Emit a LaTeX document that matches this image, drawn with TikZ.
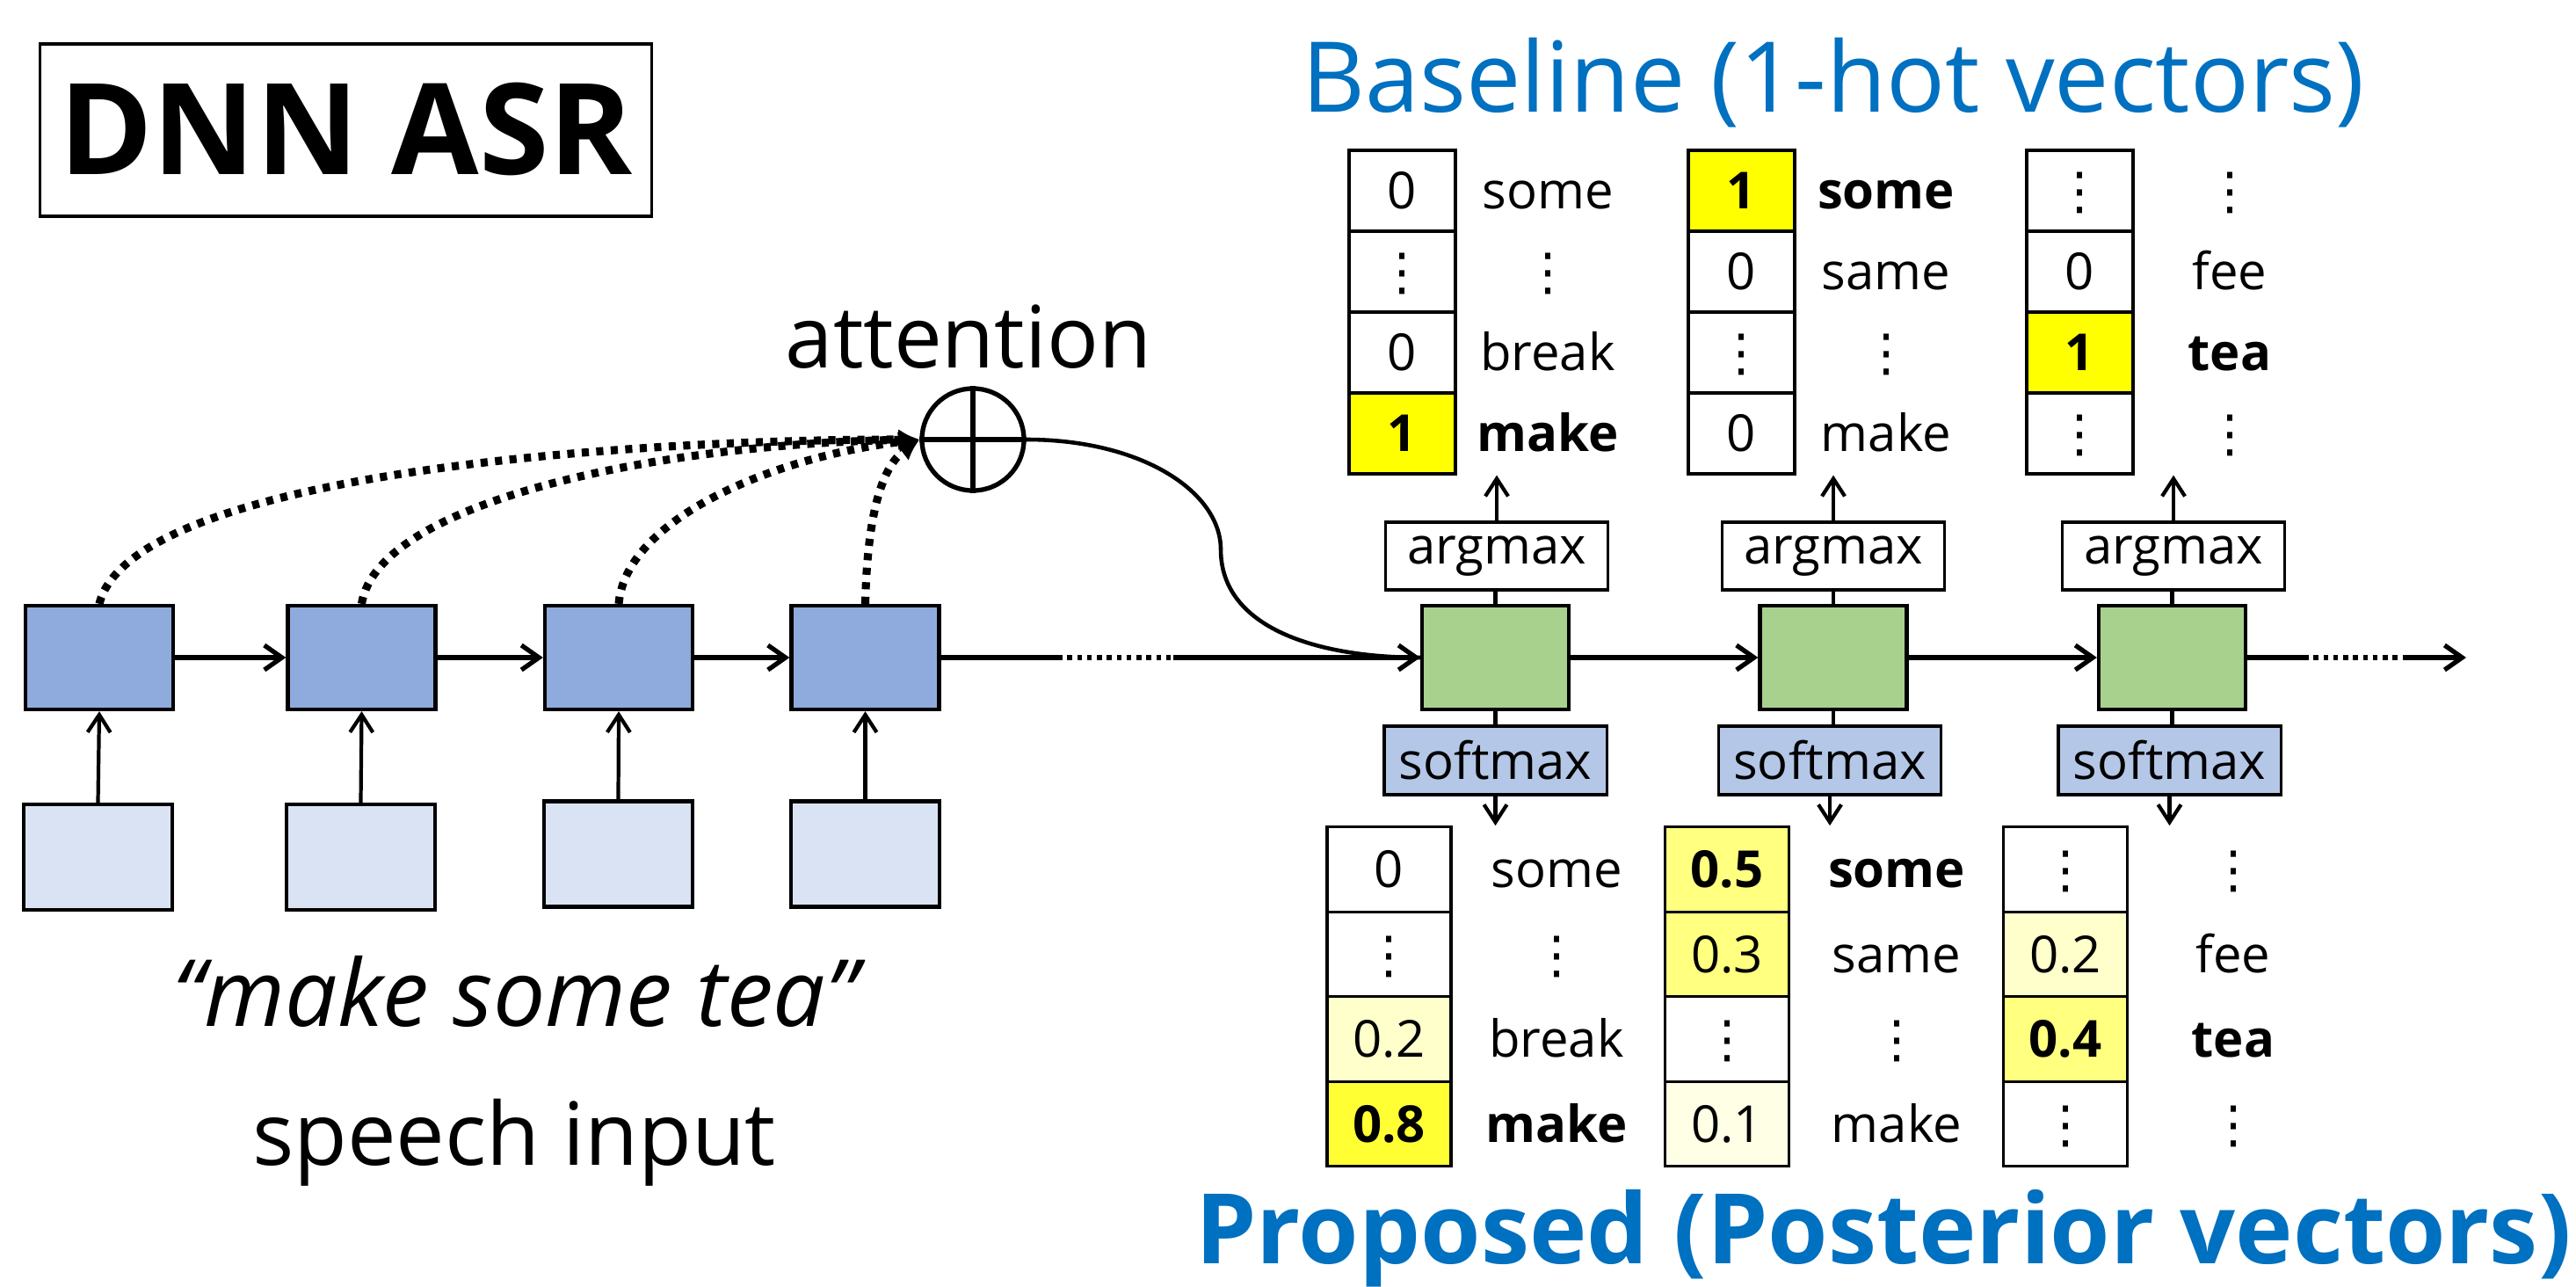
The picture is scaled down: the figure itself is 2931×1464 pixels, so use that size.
\documentclass[tikz,border=0pt]{standalone}
\usepackage{fontspec}
\setmainfont{Open Sans}
\newfontfamily\dejavu{DejaVu Sans}
\usetikzlibrary{arrows.meta}
\definecolor{titleblue}{HTML}{0070C0}
\definecolor{encfill}{HTML}{8FAADC}
\definecolor{infill}{HTML}{DAE3F3}
\definecolor{decfill}{HTML}{A9D18E}
\definecolor{smfill}{HTML}{B4C7E7}
\definecolor{yA}{HTML}{FFFF00}
\definecolor{yB}{HTML}{FFFF33}
\definecolor{yC}{HTML}{FFFF80}
\definecolor{yD}{HTML}{FFFFCC}
\definecolor{yE}{HTML}{FFFFE6}
\newcommand\vdotsym{{\dejavu ⋮}}
\newcommand\tabfont{\fontsize{16.5pt}{18pt}\selectfont}
\tikzset{
  encbox/.style={draw, line width=1.2pt, fill=encfill, minimum width=1.68cm, minimum height=1.18cm, inner sep=0pt},
  inbox/.style={draw, line width=1.2pt, fill=infill, minimum width=1.69cm, minimum height=1.20cm, inner sep=0pt},
  decbox/.style={draw, line width=1.2pt, fill=decfill, minimum width=1.67cm, minimum height=1.18cm, inner sep=0pt},
  labbox/.style={draw, line width=0.9pt, minimum width=2.53cm, minimum height=0.77cm, inner sep=0pt, font=\tabfont},
  cellT/.style={draw, line width=0.9pt, minimum width=1.21cm, minimum height=0.92cm, inner sep=0pt, font=\tabfont, text height=11.8pt, text depth=0pt},
  cellB/.style={draw, line width=0.9pt, minimum width=1.41cm, minimum height=0.965cm, inner sep=0pt, font=\tabfont, text height=11.8pt, text depth=0pt},
  word/.style={inner sep=0pt, font=\tabfont, text height=11.8pt, text depth=0pt},
  arr/.style={line width=1.5pt, -{Straight Barb[length=0.2cm, width=0.28cm, line width=1.5pt]}},
  thinarr/.style={line width=1.2pt, -{Straight Barb[length=0.2cm, width=0.26cm, line width=1.2pt]}},
  plain/.style={line width=1.5pt},
  attdot/.style={line width=2.6pt, dash pattern=on 2.3pt off 2.4pt, -{Latex[length=0.24cm, width=0.24cm]}},
  taildot/.style={line width=1.8pt, dash pattern=on 1.6pt off 1.6pt},
}
\begin{document}
\begin{tikzpicture}[x=0.01cm, y=-0.01cm]
\useasboundingbox (0,0) rectangle (2931,1464);

% title box
\node (dnn) [draw, line width=0.9pt, minimum width=6.95cm, minimum height=1.96cm, inner sep=0pt,
  font=\fontsize{41pt}{44pt}\selectfont\bfseries, text height=29pt, text depth=0pt] at (393.5,148) {DNN ASR};

% titles
\node (base) [anchor=base, inner sep=0pt, text=titleblue, font=\fontsize{31.6pt}{34pt}\selectfont] at (2086,128) {Baseline (1-hot vectors)};
\node (prop) [anchor=base, inner sep=0pt, text=titleblue, font=\fontsize{31.5pt}{34pt}\selectfont\bfseries] at (2143,1437) {Proposed (Posterior vectors)};

% encoder
\node (e1) [encbox] at (113,748) {};
\node (e2) [encbox] at (411.5,748) {};
\node (e3) [encbox] at (704,748) {};
\node (e4) [encbox] at (984.5,748) {};
\node (i1) [inbox] at (111.5,975) {};
\node (i2) [inbox] at (410.5,975) {};
\node (i3) [inbox] at (703.5,971.5) {};
\node (i4) [inbox] at (984.5,971.5) {};
\foreach \k in {1,2,3,4}{ \draw[thinarr] (i\k.north) -- (e\k.south); }
\draw[arr] (e1.east) -- (e2.west);
\draw[arr] (e2.east) -- (e3.west);
\draw[arr] (e3.east) -- (e4.west);

\node (quote) [anchor=base, inner sep=0pt, font=\fontsize{30pt}{32pt}\selectfont\itshape] at (586,1167) {“make some tea”};
\node (speech) [anchor=base, inner sep=0pt, font=\fontsize{28.2pt}{30pt}\selectfont] at (585,1325) {speech input};

% attention
\node (attlab) [anchor=base, inner sep=0pt, font=\fontsize{27.8pt}{30pt}\selectfont] at (1102,419) {attention};
\node (att) [circle, draw, line width=1.5pt, minimum size=1.16cm, inner sep=0pt] at (1107,500) {};
\draw[line width=1.5pt] (att.north) -- (att.south);
\draw[line width=1.5pt] (att.west) -- (att.east);

\draw[attdot] (e1.north) .. controls (150,540) and (700,500) .. (att.west);
\draw[attdot] (e2.north) .. controls (430,570) and (750,505) .. (att.west);
\draw[attdot] (e3.north) .. controls (712,590) and (880,520) .. (att.west);
\draw[attdot] (e4.north) .. controls (987,580) and (1005,530) .. (att.west);

% decoder
\node (d1) [decbox] at (1701.5,748) {};
\node (d2) [decbox] at (2086,748) {};
\node (d3) [decbox] at (2471.5,748) {};

\coordinate (ea) at (1203,748);
\coordinate (eb) at (1335,748);
\draw[plain] (e4.east) -- (ea);
\draw[taildot] (ea) -- (eb);
\draw[arr] (eb) -- (d1.west);
\draw[line width=1.3pt] (att.east) .. controls (1300,500) and (1389,560) .. (1389,625)
   .. controls (1389,715) and (1500,748) .. (d1.west);

\draw[arr] (d1.east) -- (d2.west);
\draw[arr] (d2.east) -- (d3.west);
\coordinate (da) at (2621,748);
\coordinate (db) at (2734,748);
\coordinate (dend) at (2806,748);
\draw[plain] (d3.east) -- (da);
\draw[taildot] (da) -- (db);
\draw[arr] (db) -- (dend);

% argmax / softmax
\node (a1) [labbox] at (1703,632.5) {argmax};
\node (a2) [labbox] at (2086,632.5) {argmax};
\node (a3) [labbox] at (2473,632.5) {argmax};
\node (s1) [labbox, fill=smfill, minimum height=0.78cm] at (1701.5,865) {softmax};
\node (s2) [labbox, fill=smfill, minimum height=0.78cm] at (2082,865) {softmax};
\node (s3) [labbox, fill=smfill, minimum height=0.78cm] at (2468.5,865) {softmax};
\draw[line width=1.2pt] (d1.north) -- (d1.north |- a1.south);
\draw[line width=1.2pt] (d2.north) -- (d2.north |- a2.south);
\draw[line width=1.2pt] (d3.north) -- (d3.north |- a3.south);
\draw[line width=1.2pt] (d1.south) -- (d1.south |- s1.north);
\draw[line width=1.2pt] (d2.south) -- (d2.south |- s2.north);
\draw[line width=1.2pt] (d3.south) -- (d3.south |- s3.north);

% top tables (baseline)
\node (t1a) [cellT] at (1595.5,217) {0};
\node (t1b) [cellT] at (1595.5,309) {\vdotsym};
\node (t1c) [cellT] at (1595.5,401) {0};
\node (t1d) [cellT, fill=yA] at (1595.5,493) {\bfseries 1};
\node (w1a) [word] at (1761,217) {some};
\node (w1b) [word] at (1761,309) {\vdotsym};
\node (w1c) [word] at (1761,401) {break};
\node (w1d) [word] at (1761,493) {\bfseries make};

\node (t2a) [cellT, fill=yA] at (1981.5,217) {\bfseries 1};
\node (t2b) [cellT] at (1981.5,309) {0};
\node (t2c) [cellT] at (1981.5,401) {\vdotsym};
\node (t2d) [cellT] at (1981.5,493) {0};
\node (w2a) [word] at (2146,217) {\bfseries some};
\node (w2b) [word] at (2146,309) {same};
\node (w2c) [word] at (2146,401) {\vdotsym};
\node (w2d) [word] at (2146,493) {make};

\node (t3a) [cellT] at (2366.5,217) {\vdotsym};
\node (t3b) [cellT] at (2366.5,309) {0};
\node (t3c) [cellT, fill=yA] at (2366.5,401) {\bfseries 1};
\node (t3d) [cellT] at (2366.5,493) {\vdotsym};
\node (w3a) [word] at (2537,217) {\vdotsym};
\node (w3b) [word] at (2537,309) {fee};
\node (w3c) [word] at (2537,401) {\bfseries tea};
\node (w3d) [word] at (2537,493) {\vdotsym};

\draw[thinarr] (a1.north) -- (a1.north |- t1d.south);
\draw[thinarr] (a2.north) -- (a2.north |- t2d.south);
\draw[thinarr] (a3.north) -- (a3.north |- t3d.south);

% bottom tables (proposed)
\node (b1a) [cellB] at (1580.5,989) {0};
\node (b1b) [cellB] at (1580.5,1085.5) {\vdotsym};
\node (b1c) [cellB, fill=yD] at (1580.5,1182) {0.2};
\node (b1d) [cellB, fill=yB] at (1580.5,1278.5) {\bfseries 0.8};
\node (v1a) [word] at (1771,989) {some};
\node (v1b) [word] at (1771,1085.5) {\vdotsym};
\node (v1c) [word] at (1771,1182) {break};
\node (v1d) [word] at (1771,1278.5) {\bfseries make};

\node (b2a) [cellB, fill=yC] at (1965,989) {\bfseries 0.5};
\node (b2b) [cellB, fill=yC] at (1965,1085.5) {0.3};
\node (b2c) [cellB] at (1965,1182) {\vdotsym};
\node (b2d) [cellB, fill=yE] at (1965,1278.5) {0.1};
\node (v2a) [word] at (2158,989) {\bfseries some};
\node (v2b) [word] at (2158,1085.5) {same};
\node (v2c) [word] at (2158,1182) {\vdotsym};
\node (v2d) [word] at (2158,1278.5) {make};

\node (b3a) [cellB] at (2350,989) {\vdotsym};
\node (b3b) [cellB, fill=yD] at (2350,1085.5) {0.2};
\node (b3c) [cellB, fill=yC] at (2350,1182) {\bfseries 0.4};
\node (b3d) [cellB] at (2350,1278.5) {\vdotsym};
\node (v3a) [word] at (2541,989) {\vdotsym};
\node (v3b) [word] at (2541,1085.5) {fee};
\node (v3c) [word] at (2541,1182) {\bfseries tea};
\node (v3d) [word] at (2541,1278.5) {\vdotsym};

\draw[thinarr] (s1.south) -- (s1.south |- b1a.north);
\draw[thinarr] (s2.south) -- (s2.south |- b2a.north);
\draw[thinarr] (s3.south) -- (s3.south |- b3a.north);
\end{tikzpicture}
\end{document}
